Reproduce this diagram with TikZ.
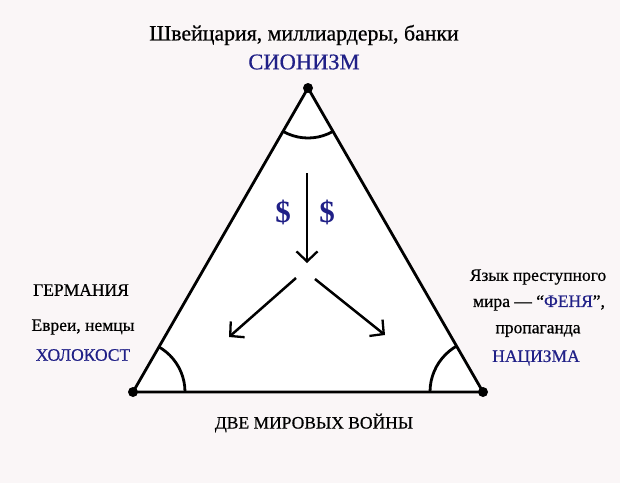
\documentclass[tikz,border=0pt]{standalone}
\usepackage{fontspec}
\setmainfont{Liberation Serif}
\newfontfamily\heavyserif[FakeBold=0.6]{Liberation Serif}
\usetikzlibrary{arrows.meta}
\definecolor{bgpink}{RGB}{250,246,247}
\definecolor{txtblue}{RGB}{32,32,135}
\tikzset{
  edge/.style={line width=2.8pt, line join=miter},
  flow/.style={line width=2.5pt, -{Straight Barb[length=10pt,width=21pt,line width=2.3pt]}},
  vdot/.style={circle, fill=black, inner sep=0pt, minimum size=10pt},
  lbl/.style={inner sep=0pt, font=\heavyserif\fontsize{17.5}{20}\selectfont},
  bluelbl/.style={lbl, text=txtblue},
  dollar/.style={text=txtblue, inner sep=0pt, font=\fontsize{31}{34}\selectfont\bfseries},
}
\begin{document}
\begin{tikzpicture}[x=1pt,y=-1pt]
\fill[bgpink] (0,0) rectangle (620,483);
\useasboundingbox (0,0) rectangle (620,483);
\coordinate (A) at (308,88);
\coordinate (B) at (133,392);
\coordinate (C) at (483,392);
\fill[white] (A) -- (B) -- (C) -- cycle;
\begin{scope}
  \clip (A) -- (B) -- (C) -- cycle;
  \draw[line width=2.8pt] (A) circle[radius=50pt];
  \draw[line width=2.8pt] (B) circle[radius=52pt];
  \draw[line width=2.8pt] (C) circle[radius=53pt];
\end{scope}
\draw[edge] (A) -- (B) -- (C) -- cycle;
\node[vdot] (dA) at (A) {};
\node[vdot] (dB) at (B) {};
\node[vdot] (dC) at (C) {};
% arrows
\coordinate (v1) at (307,173);
\coordinate (v2) at (307,263);
\coordinate (l1) at (296,278);
\coordinate (l2) at (229,337);
\coordinate (r1) at (315,279);
\coordinate (r2) at (385,335);
\draw[flow] (v1) -- (v2);
\draw[flow] (l1) -- (l2);
\draw[flow] (r1) -- (r2);
\node[dollar] (d1) at (283,212) {\$};
\node[dollar] (d2) at (327,212) {\$};
% texts
\node[inner sep=0pt, font=\heavyserif\fontsize{21.8}{25}\selectfont] (top) at (304,35) {Швейцария, миллиардеры, банки};
\node[inner sep=0pt, text=txtblue, font=\heavyserif\fontsize{22.5}{25}\selectfont] (zion) at (304,62) {СИОНИЗМ};
\node[lbl] (ger) at (81,290) {ГЕРМАНИЯ};
\node[lbl] (evr) at (83,327) {Евреи, немцы};
\node[bluelbl] (hol) at (83,355) {ХОЛОКОСТ};
\node[lbl] (yaz) at (538,277) {Язык преступного};
\node[lbl] (mir) at (539,303) {мира — “\textcolor{txtblue}{ФЕНЯ}”,};
\node[lbl] (prop) at (538,331) {пропаганда};
\node[bluelbl] (naz) at (536,358) {НАЦИЗМА};
\node[lbl] (war) at (314,423) {ДВЕ МИРОВЫХ ВОЙНЫ};
\end{tikzpicture}
\end{document}
